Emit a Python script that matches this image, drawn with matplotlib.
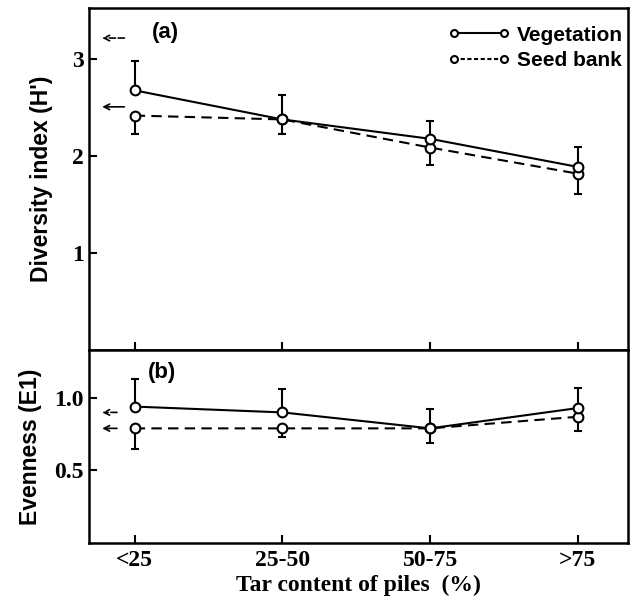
import numpy as np
import matplotlib
matplotlib.use("Agg")
import matplotlib.pyplot as plt
from matplotlib.lines import Line2D

# Data.
categories = ["<25", "25-50", "50-75", ">75"]

# (a) Diversity index H'
veg_div = [2.68, 2.38, 2.18, 1.89]
veg_div_err = [0.30, 0.25, 0.18, 0.21]
seed_div = [2.42, 2.38, 2.09, 1.82]
seed_div_err = [0.19, 0.15, 0.18, 0.21]

# (b) Evenness E1
veg_even = [0.94, 0.90, 0.79, 0.93]
veg_even_err = [0.19, 0.16, 0.13, 0.14]
seed_even = [0.79, 0.79, 0.79, 0.87]
seed_even_err = [0.14, 0.06, 0.10, 0.10]

# levels marked by arrows on the left (dashed = seed bank, solid = vegetation)
arrow_div = {"dashed": 3.22, "solid": 2.51}
arrow_even = {"dashed": 0.90, "solid": 0.79}

serif = "Liberation Serif"
sans = "Liberation Sans"

x = np.arange(len(categories))

fig = plt.figure(figsize=(6.35, 6.02), dpi=100)
ax1 = fig.add_axes([0.140, 0.4186, 0.849, 0.5681])
ax2 = fig.add_axes([0.140, 0.098, 0.849, 0.3206])

mk = dict(marker="o", markersize=7, markerfacecolor="white",
          markeredgecolor="black", markeredgewidth=1.5, color="black")


def draw(ax, veg, veg_err, seed, seed_err):
    z = np.zeros(len(veg))
    ax.errorbar(x, veg, yerr=[z, veg_err], linestyle="-", linewidth=1.5,
                capsize=3, elinewidth=1.5, capthick=1.5, zorder=3, **mk)
    ax.errorbar(x, seed, yerr=[seed_err, z], linestyle=(0, (5, 3)), linewidth=1.5,
                capsize=3, elinewidth=1.5, capthick=1.5, zorder=2, **mk)


def arrows(ax, levels, x0, x1):
    for style, y in levels.items():
        ls = "--" if style == "dashed" else "-"
        ax.annotate("", xy=(x0, y), xytext=(x1, y),
                    arrowprops=dict(arrowstyle="->", linestyle=ls, lw=1.2,
                                    color="black", shrinkA=0, shrinkB=0))


draw(ax1, veg_div, veg_div_err, seed_div, seed_div_err)
draw(ax2, veg_even, veg_even_err, seed_even, seed_even_err)
arrows(ax1, arrow_div, -0.22, -0.07)
arrows(ax2, arrow_even, -0.22, -0.12)

for ax in (ax1, ax2):
    ax.set_xlim(-0.31, 3.34)
    ax.set_xticks(x)
    ax.tick_params(direction="in", length=6, width=1.5)
    for s in ax.spines.values():
        s.set_linewidth(1.8)

ax1.set_ylim(0, 3.53)
ax1.set_yticks([1, 2, 3])
ax1.set_yticklabels(["1", "2", "3"], fontfamily=serif, fontweight="bold", fontsize=17)
ax1.set_xticklabels([])
ax1.set_ylabel("Diversity index (H')", fontfamily=sans, fontweight="bold", fontsize=16.5)
ax1.yaxis.set_label_coords(-0.067, 0.5)

ax2.set_ylim(0, 1.33)
ax2.set_yticks([0.5, 1.0])
ax2.set_yticklabels(["0.5", "1.0"], fontfamily=serif, fontweight="bold", fontsize=17)
ax2.set_xticklabels(categories, fontfamily=serif, fontweight="bold", fontsize=17)
ax2.tick_params(axis="x", pad=5)
ax2.set_xlabel("Tar content of piles  (%)", fontfamily=serif, fontweight="bold",
               fontsize=17, labelpad=3)
ax2.set_ylabel("Evenness (E1)", fontfamily=sans, fontweight="bold", fontsize=16.5)
ax2.yaxis.set_label_coords(-0.087, 0.5)

ax1.text(0.117, 0.927, "(a)", transform=ax1.transAxes, fontfamily=sans,
         fontweight="bold", fontsize=16, va="center")
ax2.text(0.11, 0.886, "(b)", transform=ax2.transAxes, fontfamily=sans,
         fontweight="bold", fontsize=16, va="center")

lmk = dict(marker="o", markersize=5, markerfacecolor="white",
           markeredgecolor="black", markeredgewidth=1.5, color="black", linewidth=1.5)
handles = [Line2D([], [], linestyle="-", **lmk),
           Line2D([], [], linestyle=(0, (2, 1.2)), **lmk)]
ax1.legend(handles, ["Vegetation", "Seed bank"], loc="upper right",
           bbox_to_anchor=(1.006, 0.973), numpoints=2,
           handlelength=3.0, handletextpad=0.3, frameon=False, borderaxespad=0,
           labelspacing=0.3, prop=dict(family=sans, weight="bold", size=15))

plt.savefig("out.png", dpi=100)
